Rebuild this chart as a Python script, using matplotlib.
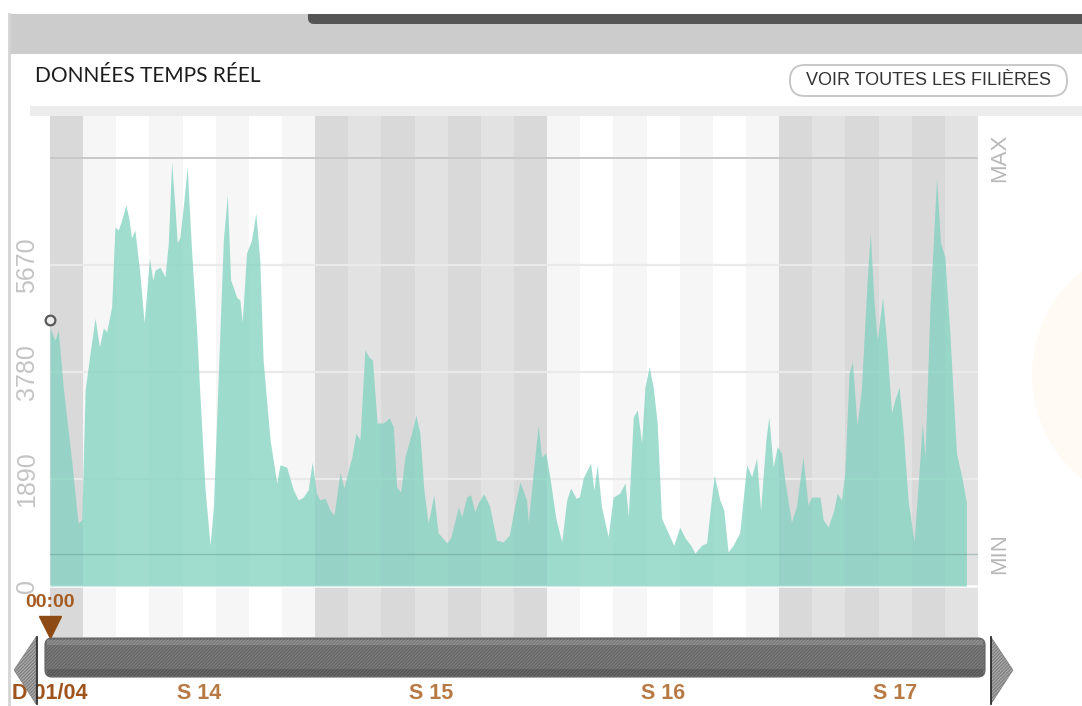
import matplotlib
matplotlib.use("Agg")
import matplotlib.pyplot as plt
from matplotlib.patches import FancyBboxPatch, Polygon, Rectangle, Circle

# time in days since 01/04 00:00, production in MW
days = [0.00, 0.15, 0.25, 0.40, 0.65, 0.85, 0.96, 1.06, 1.21, 1.36, 1.49, 1.61, 1.71, 1.86, 1.96,
        2.06, 2.16, 2.29, 2.39, 2.46, 2.56, 2.71, 2.84, 3.00, 3.10, 3.17, 3.32, 3.47, 3.57, 3.67,
        3.77, 3.84, 3.92, 4.02, 4.14, 4.27, 4.42, 4.52, 4.68, 4.83, 4.93, 5.08, 5.23, 5.35, 5.45,
        5.53, 5.63, 5.73, 5.80, 5.93, 6.08, 6.21, 6.33, 6.43, 6.64, 6.84, 6.94, 7.14,
        7.34, 7.49, 7.64, 7.79, 7.91, 8.04, 8.14, 8.30, 8.45, 8.57, 8.75, 8.87, 9.00, 9.10, 9.23,
        9.35, 9.50, 9.63, 9.73, 9.87, 10.05, 10.24, 10.36, 10.46, 10.58, 10.71, 10.91, 11.04, 11.16,
        11.28, 11.41, 11.58, 11.71, 11.97, 12.09, 12.32, 12.42, 12.57, 12.69, 12.82, 12.92, 13.09,
        13.27, 13.47, 13.67, 13.86, 13.98, 14.18, 14.38,
        14.43, 14.58, 14.73, 14.83, 14.96, 15.08, 15.26, 15.44, 15.59, 15.71, 15.87, 15.97, 16.09,
        16.31, 16.41, 16.51, 16.64, 16.84, 16.99, 17.19, 17.35, 17.45, 17.60, 17.72, 17.85, 17.95,
        18.08, 18.20, 18.32, 18.45, 18.65, 18.82, 19.00, 19.16, 19.33, 19.46, 19.66, 19.81, 19.93,
        20.04, 20.21, 20.33, 20.46, 20.61, 20.81, 21.02, 21.17, 21.32, 21.44, 21.60, 21.69,
        21.82, 21.94, 22.07, 22.17, 22.37, 22.52, 22.72, 22.87, 22.98, 23.23, 23.33, 23.48, 23.65,
        23.75, 23.88, 23.98, 24.11, 24.21, 24.35, 24.48, 24.65, 24.75, 24.86, 24.96, 25.12, 25.24,
        25.39, 25.49, 25.62, 25.74, 25.89, 26.07, 26.22, 26.32, 26.40, 26.55, 26.75, 26.87, 27.00,
        27.15, 27.35, 27.53, 27.65]
mw = [4560, 4340, 4520, 3510, 2230, 1110, 1170, 3460, 4120, 4730, 4220, 4560, 4490, 4930, 6340,
      6290, 6460, 6730, 6460, 6150, 6290, 5530, 4650, 5790, 5400, 5580, 5630, 5460, 6060, 7490,
      6690, 6060, 6160, 6690, 7400, 5930, 4570, 3410, 1700, 720, 1400, 3760, 6110, 6910, 5400,
      5280, 5100, 5050, 4660, 5880, 6110, 6590, 5760, 3990, 2580, 1820, 2140, 2100,
      1700, 1520, 1570, 1700, 2190, 1640, 1520, 1550, 1340, 1250, 2010, 1730, 2050, 2260, 2700,
      2580, 4170, 4040, 3990, 2880, 2880, 2970, 2810, 1750, 1660, 2280, 2700, 3020, 2700,
      1700, 1110, 1610, 940, 760, 850, 1400, 1220, 1570, 1610, 1310, 1470, 1630,
      1400, 810, 780, 900, 1290, 1840, 1520,
      1130, 2000, 2840, 2280, 2350, 1930, 1200, 780, 1520, 1730, 1550, 1570, 1910,
      2170, 1700, 2140, 1400, 870, 1570, 1640, 1820, 1220, 2990, 3110, 2530, 3510,
      3870, 3510, 2880, 1200, 940, 720, 1040, 850, 720, 580, 720, 760, 1400,
      1960, 1520, 1340, 600, 720, 940, 2140, 1930, 2260, 1340, 2580, 2990,
      2100, 2460, 2350, 1870, 1130, 1400, 2280, 1430, 1570, 1570, 1170, 1040, 1340,
      1640, 1520, 2000, 3760, 3960, 2840, 3460, 5350, 6230, 5050, 4340, 5100, 4340,
      3060, 3290, 3510, 2760, 1520, 780, 2000, 2880, 2280, 4930, 7210, 6060, 5810,
      4470, 2350, 1870, 1470]

tick_vals = [0, 1890, 3780, 5670]
tick_labels = ["0", "1890", "3780", "5670"]
max_val = 7560
min_val = 570
marker_day = 0
marker_val = 4700
n_days = 28
week_labels = ["S 14", "S 15", "S 16", "S 17"]
week_centers = [4.5, 11.5, 18.5, 25.5]
start_label = "D 01/04"
cursor_label = "00:00"

plt.rcParams["hatch.linewidth"] = 0.8

fig = plt.figure(figsize=(10.82, 7.06), dpi=100)

# page decoration in pixel coordinates
bg = fig.add_axes([0, 0, 1, 1], zorder=0)
bg.set_xlim(0, 1082)
bg.set_ylim(706, 0)
bg.axis("off")
bg.add_patch(Rectangle((10, 14), 1072, 40, color="#cccccc", lw=0))
bg.add_patch(FancyBboxPatch((308, 2), 800, 22, boxstyle="round,pad=0,rounding_size=6",
                            color="#555555", lw=0))
bg.add_patch(Rectangle((0, 0), 1082, 14, color="white", lw=0))
bg.plot([8.5, 8.5], [14, 706], color="#d4d4d4", lw=2)
bg.add_patch(Rectangle((30, 106), 1052, 10, color="#ececec", lw=0))
bg.add_patch(Circle((1165, 375), 133, color="#fffaf3", lw=0))
bg.text(35, 76, "DONNÉES TEMPS RÉEL", fontsize=15, family="Lato", color="#1c1c1c",
        ha="left", va="center")
bg.add_patch(FancyBboxPatch((790, 65), 277, 31, boxstyle="round,pad=0,rounding_size=15",
                            fc="white", ec="#c4c4c4", lw=1.3))
bg.text(929, 80.5, "VOIR TOUTES LES FILIÈRES", fontsize=13, family="Liberation Sans",
        color="#333333", ha="center", va="center")

# chart
ax = fig.add_axes([50 / 1082, 69 / 706, 928 / 1082, 521 / 706], zorder=1)
ax.set_xlim(0, n_days)
ax.set_ylim(-901, 8302)
ax.patch.set_alpha(0)
for s in ax.spines.values():
    s.set_visible(False)

for i in range(n_days):
    week = (i + 6) // 7
    pos = (i - 1) % 7
    if week % 2 == 1:
        c = "#f6f6f6" if pos % 2 == 0 else "#ffffff"
    else:
        c = "#d9d9d9" if pos % 2 == 0 else "#e2e2e2"
    ax.axvspan(i, i + 1, color=c, lw=0, zorder=0)

for v in tick_vals[1:]:
    ax.axhline(v, color="#eaeaea", lw=1.6, zorder=1)
ax.axhline(0, color="white", lw=1.8, zorder=1)
ax.axhline(max_val, color="#c8c8c8", lw=1.4, zorder=1)

ax.fill_between(days, mw, 0, color="#80d2c0", alpha=0.75, lw=0, zorder=2)
ax.axhline(min_val, color="#4f8479", alpha=0.35, lw=1.0, zorder=3)
ax.plot(marker_day, marker_val, "o", ms=7, mfc="#eeeeee", mec="#5a5a5a", mew=1.6,
        clip_on=False, zorder=4)

ax.set_xticks([])
ax.set_yticks(tick_vals, tick_labels)
ax.tick_params(axis="y", length=0, pad=8, labelsize=18, labelcolor="#c4c4c4", labelrotation=90)
for t in ax.get_yticklabels():
    t.set_fontfamily("Liberation Sans")
    t.set_va("center")

ax.text(1.0237, max_val, "MAX", transform=ax.get_yaxis_transform(), rotation=90,
        ha="center", va="center", fontsize=16, color="#b8b8b8", family="Liberation Sans")
ax.text(1.0237, min_val, "MIN", transform=ax.get_yaxis_transform(), rotation=90,
        ha="center", va="center", fontsize=16, color="#b8b8b8", family="Liberation Sans")

xt = ax.get_xaxis_transform()
ax.text(0, 0.067, cursor_label, transform=xt, ha="center", va="center", fontsize=14,
        fontweight="bold", color="#a55a1f", family="Liberation Sans", clip_on=False)
ax.plot(0, 0.02, marker="v", ms=16, color="#8e4a14", transform=xt, clip_on=False)
ax.text(0, -0.108, start_label, transform=xt, ha="center", va="center", fontsize=15.5,
        fontweight="bold", color="#9e541c", family="Liberation Sans", clip_on=False)
for c, lab in zip(week_centers, week_labels):
    ax.text(c, -0.108, lab, transform=xt, ha="center", va="center", fontsize=15.5,
            fontweight="bold", color="#b87a44", family="Liberation Sans", clip_on=False)

# scroll bar on top
fg = fig.add_axes([0, 0, 1, 1], zorder=2)
fg.set_xlim(0, 1082)
fg.set_ylim(706, 0)
fg.axis("off")
fg.add_patch(FancyBboxPatch((45, 638), 940, 39, boxstyle="round,pad=0,rounding_size=7",
                            fc="#7e7e7e", ec="#626262", lw=0.8, hatch="/" * 10))
fg.add_patch(Rectangle((47, 640), 936, 5, color="white", alpha=0.15, lw=0))
fg.add_patch(Rectangle((47, 669), 936, 7, color="black", alpha=0.15, lw=0))
fg.add_patch(Polygon([(36, 637), (36, 704), (14, 670)], fc="#ababab", ec="#7a7a7a",
                     lw=0.4, hatch="/" * 10))
fg.plot([36.5, 36.5], [637, 704], color="#2e2e2e", lw=1.3)
fg.add_patch(Polygon([(991, 637), (991, 704), (1013, 670)], fc="#ababab", ec="#7a7a7a",
                     lw=0.4, hatch="/" * 10))
fg.plot([990.5, 990.5], [637, 704], color="#2e2e2e", lw=1.3)

plt.savefig("out.png", dpi=100)
